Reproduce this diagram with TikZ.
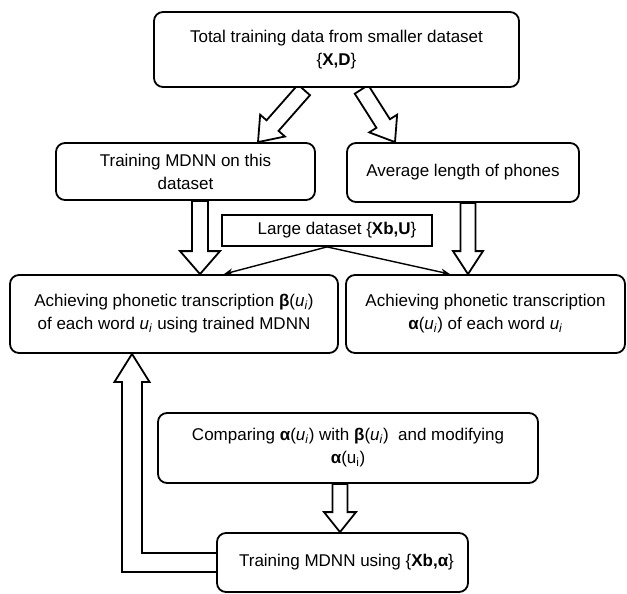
\documentclass[tikz,border=0pt]{standalone}
\usepackage{fontspec}
\setmainfont{Liberation Sans}
\usetikzlibrary{calc,arrows.meta,backgrounds}

% word variable with its index
\newcommand\uvar{\textit{u}\textsubscript{\textit{i}}}

% hollow block arrow: start, tip, half shaft width, half head width, head length
\newcommand\hollowarrow[5]{%
  \coordinate (hb) at ($(#2)!#5!(#1)$);
  \draw[blockarrow] ($(#1)!#3!90:(#2)$) -- ($(hb)!#3!-90:(#1)$)
    -- ($(hb)!#4!-90:(#1)$) -- (#2) -- ($(hb)!#4!90:(#1)$)
    -- ($(hb)!#3!90:(#1)$) -- ($(#1)!#3!-90:(#2)$) -- cycle;}

\tikzset{
  box/.style={draw, line width=1.8pt, rounded corners=9pt, fill=white,
    align=center, inner sep=0pt, font=\fontsize{17}{23}\selectfont},
  flatbox/.style={box, rounded corners=0pt},
  blockarrow/.style={draw, fill=white, line width=1.8pt, line join=miter},
  thinarrow/.style={line width=1.4pt, -{Stealth[length=9pt,width=7pt]}}
}

\begin{document}
\begin{tikzpicture}[x=1pt,y=-1pt]
\useasboundingbox (0,0) rectangle (627,594);

\node[box, minimum width=365pt, minimum height=75pt] (top) at (336.5,49.5)
  {Total training data from smaller dataset\\ \{\textbf{X,D}\}};
\node[box, minimum width=259pt, minimum height=57pt] (trainL) at (185.5,171.5)
  {Training MDNN on this\\ dataset};
\node[box, minimum width=232pt, minimum height=59pt] (avg) at (463,172.5)
  {Average length of phones};
\node[flatbox, minimum width=210pt, minimum height=31pt] (large) at (327,230.5)
  {\hspace*{20pt}Large dataset \{\textbf{Xb,U}\}};
\node[box, minimum width=328pt, minimum height=78pt] (achL) at (174,314)
  {Achieving phonetic transcription \textbf{β}(\uvar)\\ of each word \uvar{} using trained MDNN};
\node[box, minimum width=279pt, minimum height=78pt] (achR) at (485.5,314)
  {Achieving phonetic transcription\\ \textbf{α}(\uvar) of each word \uvar};
\node[box, minimum width=380pt, minimum height=70pt] (comp) at (348,448)
  {Comparing \textbf{α}(\uvar) with \textbf{β}(\uvar)\ \ and modifying\\ \textbf{α}(u\textsubscript{i})};
\node[box, minimum width=251pt, minimum height=59pt] (trainB) at (342.5,562.5)
  {\hspace*{8pt}Training MDNN using \{\textbf{Xb,α}\}};

% ends of the block arrows
\coordinate (d1s) at ($(top.south)+(-32.5,2)$);
\coordinate (d1e) at ($(trainL.north)+(72.5,0)$);
\coordinate (d2s) at ($(top.south)+(25,1.5)$);
\coordinate (d2e) at ($(avg.north)+(-68,0)$);
\coordinate (v1s) at ($(trainL.south)+(14.5,0)$);
\coordinate (v1e) at ($(achL.north)+(26,0)$);
\coordinate (v2s) at ($(avg.south)+(5,0)$);
\coordinate (v2e) at ($(achR.north)+(-17.5,0)$);
\coordinate (v3s) at ($(comp.south)+(-8,0)$);
\coordinate (v3e) at ($(trainB.north)+(-2.5,0)$);
\coordinate (fbtip) at ($(achL.south)+(-42,0)$);

\begin{scope}[on background layer]
  \hollowarrow{d1s}{d1e}{8pt}{16.5pt}{22pt}
  \hollowarrow{d2s}{d2e}{8pt}{16.5pt}{22pt}
  \hollowarrow{v1s}{v1e}{8pt}{20pt}{23pt}
  \hollowarrow{v2s}{v2e}{7.5pt}{15pt}{23pt}
  \hollowarrow{v3s}{v3e}{7.5pt}{16pt}{20pt}
  % feedback from the last training step back to the MDNN transcription
  \draw[blockarrow] ($(trainB.west)+(0,9.5)$) -| ($(fbtip)+(-10,28)$)
    -- ++(-7.5,0) -- (fbtip) -- ($(fbtip)+(17.5,28)$) -- ++(-7.5,0)
    |- ($(trainB.west)+(0,-9.5)$);
\end{scope}

\draw[thinarrow] (large.south) -- ($(achL.north)+(50,0)$);
\draw[thinarrow] (large.south) -- ($(achR.north)+(-35.5,0)$);
\end{tikzpicture}
\end{document}
